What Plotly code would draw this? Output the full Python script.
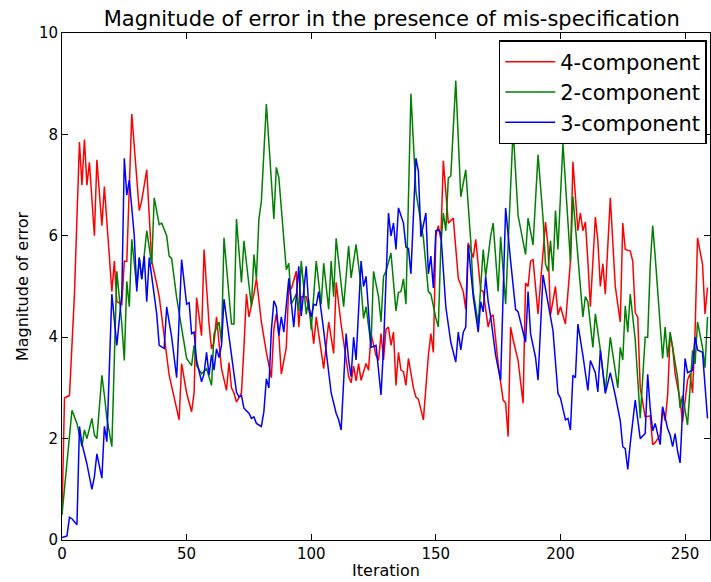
import plotly.graph_objects as go

# Error magnitude per iteration for each fitted mixture
iter_4comp = [0, 1, 3, 5, 7, 8, 9, 10, 11, 13, 14, 16, 17, 20, 21, 22, 24, 25, 26, 28,
              31, 32, 34, 36, 38, 39, 43, 47, 48, 50, 52, 53, 54, 56, 57, 59, 60, 61, 62, 64,
              66, 67, 68, 69, 70, 72, 73, 74, 75, 77, 78, 80, 82, 84, 85, 86, 87, 88, 90, 91,
              92, 94, 95, 96, 98, 100, 101, 102, 105, 107, 109, 110, 112, 113, 115, 116, 117, 118, 119, 120,
              122, 123, 124, 126, 127, 128, 129, 130, 131, 132, 133, 134, 135, 136, 137, 138, 139, 141, 142, 143,
              145, 147, 148, 149, 150, 151, 152, 153, 155, 157, 159, 161, 162, 163, 165, 166, 168, 169, 171, 172,
              173, 175, 177, 178, 179, 180, 181, 183, 185, 186, 187, 188, 189, 191, 193, 194, 195, 196, 198, 199,
              200, 202, 204, 205, 207, 208, 209, 210, 211, 212, 214, 215, 216, 217, 218, 220, 222, 224, 225, 226,
              228, 229, 230, 231, 232, 234, 236, 237, 238, 240, 241, 242, 243, 244, 245, 246, 248, 249, 251, 252,
              253, 254, 255, 257, 258, 259]
err_4comp = [0.5, 2.8, 2.85, 4.85, 7.85, 7.0, 7.9, 7.0, 7.45, 6.0, 7.5, 6.2, 6.97, 4.9, 5.5, 4.7, 4.65, 5.5, 5.5, 8.4,
             6.5, 6.7, 7.3, 5.5, 5.05, 4.8, 3.25, 2.37, 3.48, 2.9, 2.53, 2.9, 4.78, 4.03, 5.73, 4.26, 3.77, 3.9, 4.4, 3.38,
             2.95, 3.5, 3.0, 2.9, 2.72, 2.9, 3.8, 4.85, 4.4, 4.85, 5.16, 4.3, 3.7, 3.2, 4.16, 4.46, 4.05, 3.27, 3.8, 5.03,
             4.95, 5.3, 4.2, 4.8, 4.8, 4.3, 3.87, 4.4, 3.38, 4.3, 3.68, 5.08, 4.25, 3.9, 3.23, 3.1, 3.43, 3.14, 3.48, 3.15,
             3.48, 3.35, 4.07, 3.64, 3.54, 4.07, 3.55, 4.16, 4.2, 3.84, 4.1, 3.05, 3.7, 3.35, 3.32, 3.05, 3.58, 3.0, 2.82, 2.78,
             2.37, 3.64, 4.07, 3.7, 6.0, 6.2, 5.93, 7.48, 6.25, 6.35, 5.16, 4.9, 4.55, 5.86, 5.57, 5.93, 4.93, 4.9, 4.2, 4.4,
             4.44, 3.47, 2.76, 2.7, 2.04, 4.2, 3.95, 3.54, 2.7, 5.07, 5.0, 5.5, 5.53, 4.46, 5.6, 6.27, 5.8, 4.44, 5.0, 4.44,
             4.6, 4.26, 5.5, 7.46, 6.1, 6.45, 6.1, 6.27, 5.5, 4.6, 6.37, 5.9, 5.0, 5.45, 4.85, 6.75, 5.0, 4.3, 6.25, 5.73,
             5.7, 5.5, 4.48, 4.4, 3.0, 2.43, 2.45, 1.88, 1.92, 2.07, 2.6, 2.35, 2.85, 4.05, 3.8, 3.28, 2.76, 2.33, 3.15, 3.28,
             2.9, 4.1, 5.96, 5.44, 4.46, 4.98]

iter_2comp = [0, 4, 6, 8, 9, 10, 12, 13, 14, 16, 17, 18, 20, 21, 22, 24, 25, 26, 27, 28,
              30, 31, 32, 34, 36, 37, 39, 40, 42, 43, 44, 46, 48, 50, 52, 53, 54, 56, 58, 60,
              61, 63, 64, 65, 68, 69, 70, 72, 73, 76, 77, 78, 79, 80, 82, 85, 86, 87, 90, 91,
              92, 94, 95, 96, 98, 99, 100, 102, 104, 105, 107, 108, 109, 110, 113, 115, 116, 118, 120, 121,
              122, 124, 125, 127, 128, 129, 130, 132, 134, 135, 136, 137, 138, 140, 142, 145, 147, 148, 150, 151,
              152, 153, 154, 155, 156, 158, 160, 162, 164, 165, 167, 169, 170, 172, 173, 175, 176, 178, 179, 181,
              183, 186, 187, 189, 191, 193, 194, 195, 196, 197, 198, 199, 201, 204, 205, 207, 209, 210, 211, 213,
              214, 216, 218, 220, 222, 223, 224, 225, 226, 227, 228, 230, 232, 234, 235, 236, 237, 238, 241, 242,
              243, 244, 247, 248, 249, 251, 253, 254, 255, 257, 258, 259]
err_2comp = [0.5, 2.56, 2.3, 1.84, 2.17, 2.0, 2.4, 2.07, 2.0, 3.25, 2.86, 2.4, 1.84, 3.5, 5.3, 4.26, 3.54, 5.1, 4.6, 5.93,
             4.98, 5.57, 5.14, 6.1, 5.44, 6.75, 6.22, 6.25, 6.0, 5.6, 5.55, 4.78, 4.2, 3.58, 3.44, 3.84, 3.44, 3.28, 3.38, 3.05,
             4.07, 4.3, 3.9, 5.96, 4.26, 4.26, 6.33, 5.08, 5.9, 4.6, 5.63, 5.16, 6.33, 6.68, 8.6, 6.33, 7.35, 7.15, 5.33, 5.46,
             4.65, 4.85, 4.52, 5.5, 4.45, 4.74, 4.15, 5.5, 4.65, 5.46, 4.55, 5.5, 4.8, 5.95, 4.6, 5.8, 5.17, 5.83, 5.0, 4.37,
             4.6, 3.84, 5.3, 4.8, 4.3, 5.2, 5.3, 5.66, 4.52, 4.88, 4.9, 5.15, 4.65, 8.8, 6.87, 5.96, 4.9, 4.85, 4.38, 4.2,
             5.8, 6.45, 6.1, 7.14, 7.18, 9.06, 6.77, 7.3, 5.9, 4.9, 4.26, 5.73, 5.2, 6.0, 6.25, 4.9, 5.98, 4.65, 5.82, 8.1,
             6.4, 5.63, 6.35, 5.82, 7.6, 6.35, 5.44, 5.3, 5.9, 5.3, 6.5, 5.73, 7.82, 5.5, 6.78, 5.6, 4.4, 4.8, 4.7, 3.8,
             4.46, 3.75, 2.93, 4.0, 3.35, 3.0, 3.8, 3.55, 4.62, 4.1, 4.85, 3.95, 2.4, 4.0, 4.0, 5.4, 6.2, 5.6, 3.58, 4.2,
             3.6, 4.1, 3.2, 2.6, 2.85, 2.27, 3.74, 3.47, 4.3, 3.8, 3.4, 4.4]

iter_3comp = [0, 2, 3, 4, 6, 7, 8, 10, 12, 13, 14, 16, 17, 18, 20, 22, 24, 25, 26, 27,
              29, 30, 31, 32, 33, 34, 35, 38, 39, 41, 42, 43, 44, 46, 48, 50, 51, 52, 53, 54,
              56, 57, 58, 59, 60, 61, 62, 63, 64, 65, 67, 69, 70, 71, 72, 73, 75, 76, 77, 78,
              80, 81, 82, 83, 84, 85, 86, 87, 88, 89, 91, 93, 95, 96, 98, 99, 100, 101, 102, 103,
              105, 107, 108, 110, 111, 112, 114, 115, 116, 117, 118, 120, 121, 122, 124, 126, 127, 128, 129, 130,
              131, 132, 133, 134, 135, 137, 138, 139, 140, 142, 143, 144, 146, 147, 148, 149, 150, 151, 152, 154,
              156, 158, 159, 160, 161, 162, 163, 165, 167, 168, 169, 170, 171, 172, 174, 176, 178, 180, 182, 183,
              186, 187, 188, 190, 191, 193, 194, 197, 199, 200, 202, 203, 204, 205, 206, 207, 209, 211, 212, 214,
              215, 216, 218, 220, 222, 224, 225, 226, 227, 228, 230, 231, 232, 234, 235, 236, 237, 238, 239, 240,
              241, 243, 244, 245, 246, 247, 248, 250, 251, 253, 254, 255, 257, 259]
err_3comp = [0.05, 0.08, 0.45, 0.42, 0.3, 2.24, 1.9, 1.5, 1.0, 1.25, 1.7, 1.22, 2.24, 1.94, 4.85, 3.84, 4.85, 7.53, 6.8, 7.1,
             6.0, 4.9, 5.57, 5.15, 5.6, 4.7, 5.57, 4.46, 3.84, 3.78, 4.6, 4.3, 4.0, 3.2, 5.53, 4.65, 4.68, 4.07, 4.1, 3.54,
             3.12, 3.28, 3.7, 3.25, 3.65, 3.35, 3.77, 3.6, 3.84, 4.75, 3.96, 3.28, 2.92, 2.82, 2.85, 2.6, 2.5, 2.4, 2.43, 2.3,
             2.24, 2.53, 3.18, 3.0, 4.13, 4.72, 4.6, 4.03, 4.4, 4.1, 5.16, 4.2, 5.4, 4.42, 5.4, 4.6, 4.4, 4.65, 4.63, 4.9,
             4.13, 3.25, 2.9, 2.5, 2.37, 2.17, 4.07, 3.55, 3.22, 4.0, 3.55, 5.5, 5.0, 5.2, 3.8, 3.84, 3.3, 2.86, 3.8, 5.15,
             6.45, 6.0, 6.25, 5.73, 6.55, 6.25, 5.78, 5.75, 5.25, 7.53, 7.27, 5.98, 6.45, 5.25, 5.6, 4.97, 6.1, 6.12, 6.05, 4.6,
             3.9, 3.51, 4.1, 3.75, 4.1, 4.2, 5.82, 4.8, 4.1, 4.7, 4.5, 5.2, 4.7, 4.4, 3.64, 3.15, 6.55, 5.5, 4.55, 4.5,
             3.9, 4.9, 4.07, 3.6, 3.15, 5.23, 4.95, 4.13, 2.89, 2.8, 2.37, 2.4, 2.17, 3.25, 3.2, 4.26, 3.64, 2.95, 3.54, 3.3,
             2.92, 3.74, 2.89, 3.3, 2.85, 2.35, 1.84, 1.8, 1.39, 1.9, 2.76, 2.35, 2.0, 2.1, 3.27, 2.6, 2.15, 2.3, 2.1, 1.88,
             2.63, 2.2, 2.07, 1.84, 2.1, 1.75, 1.52, 3.58, 3.3, 3.35, 4.0, 3.75, 3.7, 2.4]

x_ticks = [0, 50, 100, 150, 200, 250]
y_ticks = [0, 2, 4, 6, 8, 10]

FONT = "DejaVu Sans"

fig = go.Figure()
for name, xs, ys, color in [
    ("4-component", iter_4comp, err_4comp, "#ff0000"),
    ("2-component", iter_2comp, err_2comp, "#008000"),
    ("3-component", iter_3comp, err_3comp, "#0000ff"),
]:
    fig.add_trace(go.Scatter(x=xs, y=ys, mode="lines", name=name,
                             legendgroup=name,
                             line=dict(color=color, width=1.5)))

axis_common = dict(
    showgrid=False, zeroline=False,
    showline=True, linecolor="black", linewidth=1, mirror="allticks",
    ticks="inside", ticklen=6, tickwidth=1, tickcolor="black",
    tickfont=dict(family=FONT, size=15, color="black"),
)

fig.update_layout(
    width=711, height=582,
    margin=dict(l=62, r=1, t=33, b=42),
    paper_bgcolor="white", plot_bgcolor="white",
    font=dict(family=FONT, color="black"),
    title=dict(text="Magnitude of error in the presence of mis-specification",
               x=0.551, xanchor="center", y=0.968, yanchor="middle",
               font=dict(family=FONT, size=21, color="black")),
    xaxis=dict(range=[0, 260], tickvals=x_ticks,
               title=dict(text="Iteration", standoff=2,
                          font=dict(family=FONT, size=16)),
               **axis_common),
    yaxis=dict(range=[0, 10], tickvals=y_ticks,
               title=dict(text="Magnitude of error", standoff=6,
                          font=dict(family=FONT, size=16)),
               **axis_common),
    legend=dict(x=0.995, xanchor="right", y=0.986, yanchor="top",
                bgcolor="white", bordercolor="black", borderwidth=1.5,
                font=dict(family=FONT, size=21, color="black"),
                itemwidth=50, tracegroupgap=1, traceorder="normal"),
    showlegend=True,
)

fig.write_html("out.html")
